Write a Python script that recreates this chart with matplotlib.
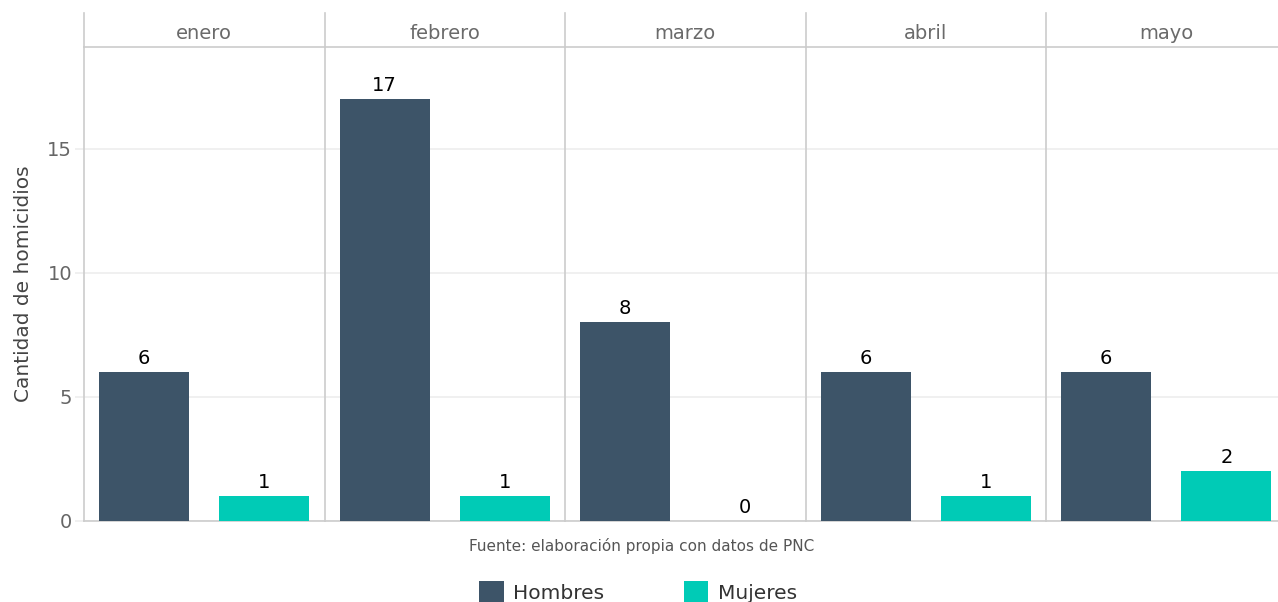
import matplotlib
matplotlib.use('Agg')
import matplotlib.pyplot as plt
from matplotlib.patches import Patch

# datos
meses = ['enero', 'febrero', 'marzo', 'abril', 'mayo']
hombres = [6, 17, 8, 6, 6]
mujeres = [1, 1, 0, 1, 2]
sexos = ['Hombres', 'Mujeres']
colores = ['#3d5468', '#00cbb6']
yticks = [0, 5, 10, 15]
fuente = 'Fuente: elaboración propia con datos de PNC'

W, H = 1278, 602
fig = plt.figure(figsize=(W / 100, H / 100), dpi=100)
plt.rcParams['font.family'] = 'DejaVu Sans'

linea = '#cccccc'
grid = '#eeeeee'

x0 = 84
pw = 240.5
top = 47
bot = 521
strip_top = 13

for i, mes in enumerate(meses):
    left = (x0 + i * pw) / W
    ax = fig.add_axes([left, (H - bot) / H, pw / W, (bot - top) / H])
    vals = [hombres[i], mujeres[i]]
    bars = ax.bar([0, 1], vals, width=0.75, color=colores, zorder=3)
    for b, v in zip(bars, vals):
        ax.annotate(str(v), (b.get_x() + b.get_width() / 2, v),
                    xytext=(0, 3), textcoords='offset points',
                    ha='center', va='bottom', fontsize=14, color='black')
    ax.set_xlim(-0.5, 1.5)
    ax.set_ylim(0, 19.1)
    ax.set_xticks([])
    ax.set_yticks(yticks)
    ax.grid(axis='y', color=grid, linewidth=1.2, zorder=0)
    for s in ['top', 'right']:
        ax.spines[s].set_visible(False)
    ax.spines['left'].set_color(linea)
    ax.spines['bottom'].set_color(linea)
    ax.spines['left'].set_linewidth(1.2)
    ax.spines['bottom'].set_linewidth(1.2)
    if i == 0:
        ax.tick_params(axis='y', length=6.5, width=1.2, color=grid, pad=2,
                       labelsize=14, labelcolor='#666666')
        ax.set_ylabel('Cantidad de homicidios', fontsize=14.5, color='#444444',
                      labelpad=10)
    else:
        ax.tick_params(axis='y', length=0, labelleft=False)

    # franja con el nombre del mes
    sax = fig.add_axes([left, (H - top) / H, pw / W, (top - strip_top) / H])
    sax.set_xticks([])
    sax.set_yticks([])
    for s in ['top', 'right']:
        sax.spines[s].set_visible(False)
    sax.spines['left'].set_color(linea)
    sax.spines['bottom'].set_color(linea)
    sax.spines['left'].set_linewidth(1.2)
    sax.spines['bottom'].set_linewidth(1.2)
    sax.patch.set_alpha(0)
    sax.text(0.5, 0.40, mes, ha='center', va='center', fontsize=14,
             color='#6a6a6a', transform=sax.transAxes)

fig.text(642 / W, (H - 546) / H, fuente, ha='center', va='center',
         fontsize=11, color='#555555')

handles = [Patch(facecolor=c, edgecolor='none') for c in colores]
fig.legend(handles, sexos, loc='center', bbox_to_anchor=(638 / W, (H - 592) / H),
           ncol=2, frameon=False, fontsize=14.5, handlelength=1.2,
           handleheight=1.2, handletextpad=0.45, columnspacing=4,
           labelcolor='#333333')

fig.savefig('out.png', dpi=100)
